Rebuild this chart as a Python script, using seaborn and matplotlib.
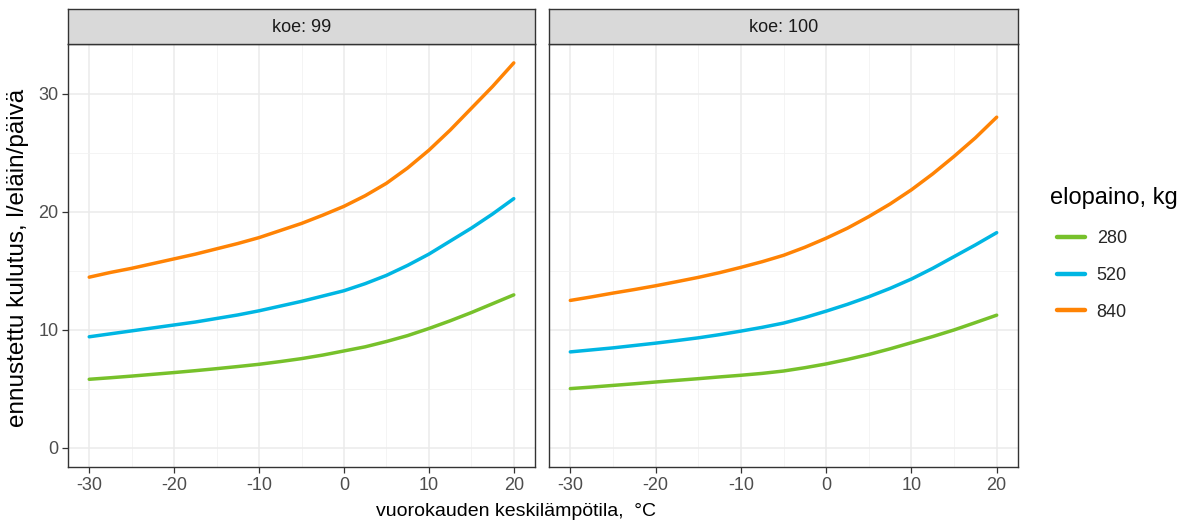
import pandas as pd
import matplotlib
matplotlib.use("Agg")
import matplotlib.pyplot as plt
import seaborn as sns

# lämpötilat (x-akseli)
lampo = [-30, -27.5, -25, -22.5, -20, -17.5, -15, -12.5, -10, -7.5, -5,
         -2.5, 0, 2.5, 5, 7.5, 10, 12.5, 15, 17.5, 20]

# koe 99
koe99_280 = [5.8, 5.93, 6.07, 6.22, 6.37, 6.53, 6.7, 6.88, 7.07, 7.3, 7.55,
             7.85, 8.2, 8.55, 9.0, 9.5, 10.1, 10.75, 11.45, 12.2, 12.95]
koe99_520 = [9.4, 9.65, 9.9, 10.15, 10.4, 10.65, 10.95, 11.25, 11.6, 12.0, 12.4,
             12.85, 13.3, 13.9, 14.6, 15.45, 16.4, 17.5, 18.6, 19.8, 21.1]
koe99_840 = [14.45, 14.85, 15.2, 15.6, 16.0, 16.4, 16.85, 17.3, 17.8, 18.4, 19.0,
             19.7, 20.45, 21.35, 22.4, 23.7, 25.2, 26.9, 28.75, 30.6, 32.6]

# koe 100
koe100_280 = [5.01, 5.14, 5.28, 5.42, 5.57, 5.71, 5.85, 6.0, 6.14, 6.3, 6.5,
              6.78, 7.1, 7.48, 7.9, 8.38, 8.9, 9.42, 9.98, 10.6, 11.23]
koe100_520 = [8.12, 8.29, 8.46, 8.66, 8.86, 9.08, 9.31, 9.58, 9.88, 10.2, 10.56,
              11.03, 11.57, 12.15, 12.79, 13.5, 14.29, 15.2, 16.19, 17.18, 18.22]
koe100_840 = [12.48, 12.78, 13.1, 13.4, 13.72, 14.07, 14.43, 14.83, 15.28, 15.76, 16.3,
              16.98, 17.75, 18.6, 19.58, 20.65, 21.85, 23.2, 24.68, 26.25, 28.0]

painot = ["280", "520", "840"]
kokeet = [99, 100]
varit = {"280": "#77C12B", "520": "#00B6E3", "840": "#FF8304"}

sarjat = {
    (99, "280"): koe99_280, (99, "520"): koe99_520, (99, "840"): koe99_840,
    (100, "280"): koe100_280, (100, "520"): koe100_520, (100, "840"): koe100_840,
}

rivit = []
for (koe, paino), arvot in sarjat.items():
    for t, v in zip(lampo, arvot):
        rivit.append({"koe": koe, "elopaino": paino, "lampo": t, "kulutus": v})
df = pd.DataFrame(rivit)

sns.set_style("white")
plt.rcParams["font.family"] = ["Liberation Sans", "DejaVu Sans"]
plt.rcParams["axes.unicode_minus"] = False

W, H = 1185, 522
fig = plt.figure(figsize=(W / 100, H / 100), dpi=100)

paneelit = [(68, 535), (549, 1018)]
y_top, y_bot, strip_top = 44, 467, 9

axes = []
for i, (koe, (x0, x1)) in enumerate(zip(kokeet, paneelit)):
    ax = fig.add_axes([x0 / W, (H - y_bot) / H, (x1 - x0) / W, (y_bot - y_top) / H])
    sub = df[df["koe"] == koe]
    sns.lineplot(data=sub, x="lampo", y="kulutus", hue="elopaino", hue_order=painot,
                 palette=varit, linewidth=2.5, ax=ax, legend=(i == 1))
    ax.set_xlim(-32.5, 22.5)
    ax.set_ylim(-1.63, 34.2)
    ax.set_xticks([-30, -20, -10, 0, 10, 20])
    ax.set_xticks([-25, -15, -5, 5, 15], minor=True)
    ax.set_yticks([0, 10, 20, 30])
    ax.set_yticks([5, 15, 25], minor=True)
    ax.grid(True, which="major", color="#EBEBEB", linewidth=1.1)
    ax.grid(True, which="minor", color="#F2F2F2", linewidth=0.6)
    ax.set_axisbelow(True)
    for s in ax.spines.values():
        s.set_color("#333333")
        s.set_linewidth(1.0)
    ax.tick_params(which="major", direction="out", length=4, width=0.9, color="#333333",
                   labelsize=13, labelcolor="#4D4D4D", bottom=True, left=(i == 0), pad=3)
    ax.tick_params(which="minor", length=0)
    ax.set_xlabel("")
    ax.set_ylabel("")
    if i == 1:
        ax.set_yticklabels([])
    # otsikkopalkki
    st = fig.add_axes([x0 / W, (H - y_top) / H, (x1 - x0) / W, (y_top - strip_top) / H])
    st.set_facecolor("#D9D9D9")
    st.set_xticks([])
    st.set_yticks([])
    for s in st.spines.values():
        s.set_color("#333333")
        s.set_linewidth(1.0)
    st.text(0.5, 0.47, f"koe: {koe}", ha="center", va="center", fontsize=13,
            color="#1A1A1A", transform=st.transAxes)
    axes.append(ax)

# selite: otsikko erikseen, avaimet hieman sisennettyinä
handles, labels = axes[1].get_legend_handles_labels()
axes[1].get_legend().remove()
fig.text(1050 / W, 1 - 198 / H, "elopaino, kg", ha="left", va="center",
         fontsize=17, color="#000000")
leg = fig.legend(handles, labels, loc="upper left",
                 bbox_to_anchor=(1057 / W, 1 - 230 / H), frameon=False,
                 fontsize=13, handlelength=1.55, labelspacing=1.1,
                 handletextpad=0.65, borderaxespad=0, borderpad=0)
for l in leg.get_lines():
    l.set_linewidth(3.2)

fig.text(516 / W, 1 - 511 / H, "vuorokauden keskilämpötila,  °C",
         ha="center", va="center", fontsize=14, color="#000000")
fig.text(18 / W, 1 - 258 / H, "ennustettu kulutus, l/eläin/päivä", rotation=90,
         ha="center", va="center", fontsize=17.5, color="#000000")

fig.savefig("out.png", dpi=100)
